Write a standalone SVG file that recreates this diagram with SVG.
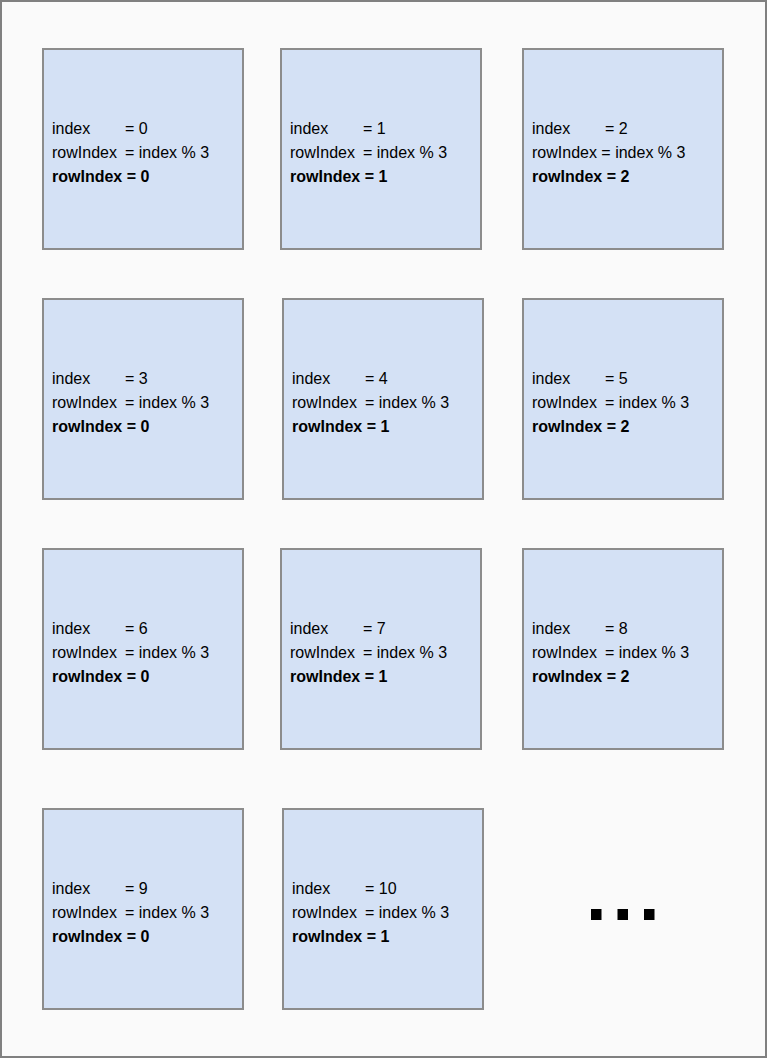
<svg xmlns="http://www.w3.org/2000/svg" width="768" height="1058" viewBox="0 0 768 1058">
<style>
.frame{fill:#fafafa;stroke:#808080;stroke-width:2}
.box{fill:#d4e1f5;stroke:#8c8c8c;stroke-width:2}
text{font-family:"Liberation Sans",Arial,sans-serif;font-size:16px;fill:#000}
.b{font-weight:bold}
.dot{fill:#000}
</style>
<rect class="frame" x="1" y="1" width="765" height="1056"/>
<g id="connectors"/>
<g id="n0"><rect class="box" x="43" y="49" width="200" height="200"/>
<text x="52" y="134">index<tspan x="125">= 0</tspan></text>
<text x="52" y="158">rowIndex<tspan x="125">= index % 3</tspan></text>
<text class="b" x="52" y="182">rowIndex = 0</text></g>
<g id="n1"><rect class="box" x="281" y="49" width="200" height="200"/>
<text x="290" y="134">index<tspan x="363">= 1</tspan></text>
<text x="290" y="158">rowIndex<tspan x="363">= index % 3</tspan></text>
<text class="b" x="290" y="182">rowIndex = 1</text></g>
<g id="n2"><rect class="box" x="523" y="49" width="200" height="200"/>
<text x="532" y="134">index<tspan x="605">= 2</tspan></text>
<text x="532" y="158">rowIndex = index % 3</text>
<text class="b" x="532" y="182">rowIndex = 2</text></g>
<g id="n3"><rect class="box" x="43" y="299" width="200" height="200"/>
<text x="52" y="384">index<tspan x="125">= 3</tspan></text>
<text x="52" y="408">rowIndex<tspan x="125">= index % 3</tspan></text>
<text class="b" x="52" y="432">rowIndex = 0</text></g>
<g id="n4"><rect class="box" x="283" y="299" width="200" height="200"/>
<text x="292" y="384">index<tspan x="365">= 4</tspan></text>
<text x="292" y="408">rowIndex<tspan x="365">= index % 3</tspan></text>
<text class="b" x="292" y="432">rowIndex = 1</text></g>
<g id="n5"><rect class="box" x="523" y="299" width="200" height="200"/>
<text x="532" y="384">index<tspan x="605">= 5</tspan></text>
<text x="532" y="408">rowIndex<tspan x="605">= index % 3</tspan></text>
<text class="b" x="532" y="432">rowIndex = 2</text></g>
<g id="n6"><rect class="box" x="43" y="549" width="200" height="200"/>
<text x="52" y="634">index<tspan x="125">= 6</tspan></text>
<text x="52" y="658">rowIndex<tspan x="125">= index % 3</tspan></text>
<text class="b" x="52" y="682">rowIndex = 0</text></g>
<g id="n7"><rect class="box" x="281" y="549" width="200" height="200"/>
<text x="290" y="634">index<tspan x="363">= 7</tspan></text>
<text x="290" y="658">rowIndex<tspan x="363">= index % 3</tspan></text>
<text class="b" x="290" y="682">rowIndex = 1</text></g>
<g id="n8"><rect class="box" x="523" y="549" width="200" height="200"/>
<text x="532" y="634">index<tspan x="605">= 8</tspan></text>
<text x="532" y="658">rowIndex<tspan x="605">= index % 3</tspan></text>
<text class="b" x="532" y="682">rowIndex = 2</text></g>
<g id="n9"><rect class="box" x="43" y="809" width="200" height="200"/>
<text x="52" y="894">index<tspan x="125">= 9</tspan></text>
<text x="52" y="918">rowIndex<tspan x="125">= index % 3</tspan></text>
<text class="b" x="52" y="942">rowIndex = 0</text></g>
<g id="n10"><rect class="box" x="283" y="809" width="200" height="200"/>
<text x="292" y="894">index<tspan x="365">= 10</tspan></text>
<text x="292" y="918">rowIndex<tspan x="365">= index % 3</tspan></text>
<text class="b" x="292" y="942">rowIndex = 1</text></g>
<g id="ellipsis">
<rect class="dot" x="591" y="909" width="10.5" height="11"/>
<rect class="dot" x="617.5" y="909" width="10.5" height="11"/>
<rect class="dot" x="644" y="909" width="10.5" height="11"/>
</g>
</svg>
